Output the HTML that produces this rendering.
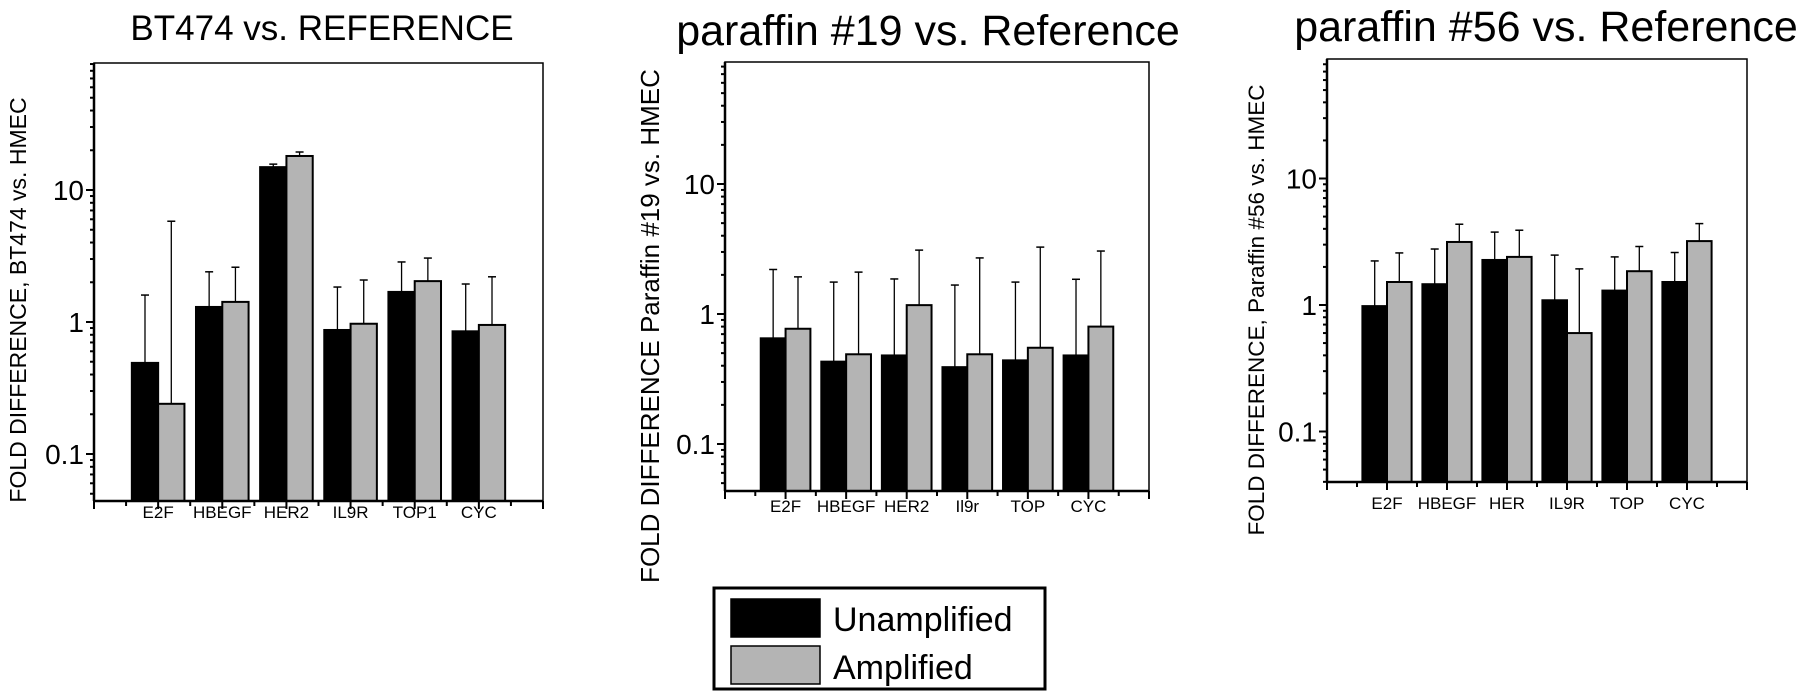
<!DOCTYPE html>
<html><head><meta charset="utf-8"><style>
body{margin:0;background:#fff;}
svg{display:block;font-family:"Liberation Sans",Arial,sans-serif;}
</style></head><body>
<svg id="chart" width="1800" height="698" viewBox="0 0 1800 698"></svg>
<script>
const categories1 = ["E2F","HBEGF","HER2","IL9R","TOP1","CYC"];
const unamp1 = [0.49,1.30,14.9,0.87,1.69,0.85];
const unampErr1 = [1.6,2.4,15.7,1.84,2.85,1.94];
const amp1 = [0.24,1.42,18.1,0.97,2.04,0.95];
const ampErr1 = [5.8,2.6,19.4,2.08,3.05,2.2];

const categories2 = ["E2F","HBEGF","HER2","Il9r","TOP","CYC"];
const unamp2 = [0.65,0.43,0.48,0.39,0.44,0.48];
const unampErr2 = [2.2,1.76,1.86,1.67,1.76,1.85];
const amp2 = [0.77,0.49,1.17,0.49,0.55,0.8];
const ampErr2 = [1.93,2.1,3.1,2.7,3.27,3.05];

const categories3 = ["E2F","HBEGF","HER","IL9R","TOP","CYC"];
const unamp3 = [0.98,1.46,2.27,1.09,1.3,1.52];
const unampErr3 = [2.23,2.77,3.77,2.48,2.4,2.6];
const amp3 = [1.52,3.15,2.4,0.6,1.85,3.2];
const ampErr3 = [2.58,4.35,3.9,1.93,2.9,4.4];

const yTicks = [0.1,1,10];
const yTickLabels = ["0.1","1","10"];

const NS="http://www.w3.org/2000/svg";
const svg=document.getElementById('chart');
function mk(tag,attrs,parent){const e=document.createElementNS(NS,tag);for(const k in attrs)e.setAttribute(k,attrs[k]);(parent||svg).appendChild(e);return e;}

function panel(cfg){
  const g=mk('g',{});
  
  
  const L=cfg.left,R=cfg.right,T=cfg.top,B=cfg.bottom;
  const y1=cfg.y1, dec=cfg.dec;
  const yS=v=>y1-Math.log10(v)*dec;
  const unit=(R-L)/7;
  const xS=i=>L+(i+1)*unit;
  const t=mk('text',{x:cfg.titleX,y:cfg.titleY,'font-size':cfg.titleSize,'text-anchor':'middle'},g);
  t.textContent=cfg.title;
  
  
  const yt=mk('text',{x:0,y:0,'font-size':cfg.ytSize,'text-anchor':'middle',transform:`translate(${cfg.ytX},${cfg.ytY}) rotate(-90)`},g);
  yt.textContent=cfg.ytitle;
  
  
  const bw=unit*0.41;
  const series=[[cfg.unamp,cfg.unampErr,'#000','unamplified'],[cfg.amp,cfg.ampErr,'#b4b4b4','amplified']];
  series.forEach((s,si)=>{
    s[0].forEach((v,i)=>{
      const cx=xS(i);
      const x0=si===0?cx-bw:cx;
      const top=yS(v);
      const eTop=yS(s[1][i]);
      const el=mk('line',{x1:x0+bw/2,x2:x0+bw/2,y1:top,y2:eTop,stroke:'#000','stroke-width':1.3},g);
      
      
      const cap=mk('line',{x1:x0+bw/2-4,x2:x0+bw/2+4,y1:eTop,y2:eTop,stroke:'#000','stroke-width':1.5},g);
      
      
      const r=mk('rect',{x:x0,y:top,width:bw,height:B-top,fill:s[2],stroke:'#000','stroke-width':2},g);
      
      
    });
  });
  const box=mk('rect',{x:L,y:T,width:R-L,height:B-T,fill:'none',stroke:'#000','stroke-width':1.5},g);
  
  
  mk('line',{x1:L,x2:L,y1:T,y2:B,stroke:'#000','stroke-width':2.5},g);
  mk('line',{x1:L,x2:R,y1:B,y2:B,stroke:'#000','stroke-width':2.5},g);
  for(let d=-2;d<=2;d++){
    for(let m=1;m<10;m++){
      const v=m*Math.pow(10,d);const y=yS(v);
      if(y<T-0.5||y>B+0.5)continue;
      mk('line',{x1:L-(m===1?8:4),x2:L,y1:y,y2:y,stroke:'#000','stroke-width':2},g);
    }
  }
  yTicks.forEach((v,i)=>{
    const tl=mk('text',{x:L-10,y:yS(v)+10,'font-size':28,'text-anchor':'end'},g);
    tl.textContent=yTickLabels[i];
    
    
  });
  for(let k=0;k<=14;k++){
    const x=L+k*unit/2;
    mk('line',{x1:x,x2:x,y1:B,y2:B+(k%2===0?8:5),stroke:'#000','stroke-width':2},g);
  }
  cfg.cats.forEach((c,i)=>{
    const tl=mk('text',{x:xS(i),y:cfg.labY,'font-size':17,'text-anchor':'middle'},g);
    tl.textContent=c;
    
    
  });
}

panel({name:'bt474-panel',title:'BT474 vs. REFERENCE',titleX:322,titleY:40,titleSize:35,ytitle:'FOLD DIFFERENCE, BT474 vs. HMEC',ytX:26,ytY:300,ytSize:23,
  left:94,right:543,top:63,bottom:501,y1:322,dec:132,labY:518,
  cats:categories1,unamp:unamp1,unampErr:unampErr1,amp:amp1,ampErr:ampErr1});
panel({name:'paraffin19-panel',title:'paraffin #19 vs. Reference',titleX:928,titleY:45,titleSize:43,ytitle:'FOLD DIFFERENCE Paraffin #19 vs. HMEC',ytX:659,ytY:326,ytSize:26,
  left:725,right:1149,top:62,bottom:491,y1:314,dec:130,labY:512,
  cats:categories2,unamp:unamp2,unampErr:unampErr2,amp:amp2,ampErr:ampErr2});
panel({name:'paraffin56-panel',title:'paraffin #56 vs. Reference',titleX:1546,titleY:41,titleSize:43,ytitle:'FOLD DIFFERENCE, Paraffin #56 vs. HMEC',ytX:1264,ytY:310,ytSize:22.5,
  left:1327,right:1747,top:59,bottom:482,y1:305,dec:126.5,labY:509,
  cats:categories3,unamp:unamp3,unampErr:unampErr3,amp:amp3,ampErr:ampErr3});

const lg=mk('g',{});


mk('rect',{x:714,y:588,width:331,height:101,fill:'#fff',stroke:'#000','stroke-width':3},lg);
const e1=mk('rect',{x:731,y:599,width:89,height:38,fill:'#000',stroke:'#000','stroke-width':1.5},lg);


const e2=mk('rect',{x:731,y:646,width:89,height:38,fill:'#b4b4b4',stroke:'#000','stroke-width':1.5},lg);


const l1=mk('text',{x:833,y:631,'font-size':34},lg);l1.textContent='Unamplified';


const l2=mk('text',{x:833,y:679,'font-size':34},lg);l2.textContent='Amplified';


</script>
</body></html>
